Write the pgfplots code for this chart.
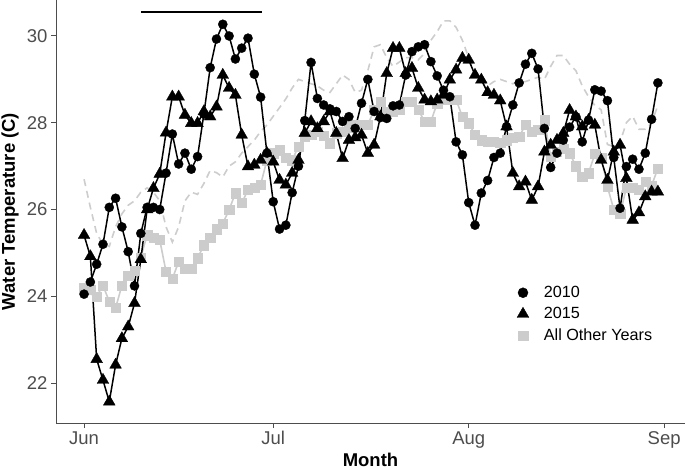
\documentclass[border=0pt]{standalone}
\usepackage{fontspec}
\setmainfont{Liberation Sans}
\usepackage{pgfplots}
\pgfplotsset{compat=1.18}
\usepackage{pgfplotstable}
\definecolor{axgray}{HTML}{4D4D4D}
\definecolor{sqgray}{HTML}{CCCCCC}
\definecolor{dashgray}{HTML}{CDCDCD}

\pgfplotstableread{
d v
0 24.05
1 24.33
2 24.74
3 25.2
4 26.05
5 26.26
6 25.6
7 25.03
8 24.24
9 25.45
10 26.05
11 26.05
12 26.0
13 26.84
14 27.74
15 27.05
16 27.3
17 26.93
18 27.22
19 28.2
20 29.27
21 29.93
22 30.27
23 30.0
24 29.47
25 29.72
26 29.95
27 29.12
28 28.59
29 27.3
30 26.18
31 25.55
32 25.64
33 26.39
34 27.0
35 28.05
36 29.39
37 28.56
38 28.41
39 28.32
40 28.26
41 28.03
42 28.14
43 27.87
44 28.45
45 29.0
46 28.26
47 28.12
48 28.1
49 28.39
50 28.41
51 29.1
52 29.64
53 29.75
54 29.8
55 29.41
56 29.08
57 28.75
58 28.6
59 27.56
60 27.26
61 26.16
62 25.64
63 26.38
64 26.67
65 27.2
66 27.3
67 27.91
68 28.41
69 28.92
70 29.35
71 29.6
72 29.24
73 27.87
74 26.97
75 27.3
76 27.6
77 27.9
78 28.14
79 27.56
80 28.06
81 28.76
82 28.73
83 28.51
84 27.2
85 26.03
86 26.99
87 27.16
88 26.93
89 27.3
90 28.08
91 28.92
}\tA

\pgfplotstableread{
d v
0 25.41
1 24.92
2 22.55
3 22.07
4 21.57
5 22.42
6 23.03
7 23.3
8 23.84
9 24.85
10 26.0
11 26.49
12 26.82
13 27.77
14 28.6
15 28.6
16 28.18
17 27.99
18 27.99
19 28.26
20 28.14
21 28.37
22 29.1
23 28.8
24 28.64
25 27.72
26 26.99
27 27.03
28 27.14
29 27.3
30 27.1
31 26.68
32 26.57
33 26.84
34 27.14
35 27.76
36 28.03
37 27.87
38 28.03
39 28.26
40 27.76
41 27.18
42 27.6
43 27.66
44 27.72
45 27.3
46 27.49
47 28.14
48 29.14
49 29.72
50 29.72
51 29.14
52 29.26
53 28.8
54 28.53
55 28.49
56 28.53
57 28.64
58 28.99
59 29.22
60 29.49
61 29.45
62 29.1
63 28.99
64 28.7
65 28.64
66 28.51
67 27.91
68 26.84
69 26.53
70 26.64
71 26.22
72 26.53
73 27.33
74 27.49
75 27.6
76 27.76
77 28.29
78 28.14
79 27.91
80 28.06
81 27.95
82 27.14
83 26.68
84 27.33
85 27.49
86 26.72
87 25.76
88 25.93
89 26.3
90 26.41
91 26.41
}\tB

\pgfplotstableread{
d v
0 24.2
1 24.15
2 24.0
3 24.25
4 23.88
5 23.73
6 24.25
7 24.47
8 24.6
9 24.9
10 25.41
11 25.35
12 25.3
13 24.57
14 24.4
15 24.8
16 24.63
17 24.63
18 24.88
19 25.18
20 25.35
21 25.55
22 25.68
23 25.99
24 26.38
25 26.15
26 26.45
27 26.5
28 26.57
29 27.14
30 27.3
31 27.37
32 27.2
33 27.14
34 27.45
35 27.68
36 27.72
37 27.8
38 27.7
39 27.53
40 27.76
41 27.8
42 27.9
43 27.95
44 27.95
45 27.95
46 28.3
47 28.49
48 28.26
49 28.26
50 28.3
51 28.49
52 28.49
53 28.3
54 28.03
55 28.03
56 28.45
57 28.53
58 28.53
59 28.53
60 28.14
61 27.99
62 27.72
63 27.6
64 27.57
65 27.57
66 27.55
67 27.6
68 27.65
69 27.68
70 27.95
71 27.8
72 27.85
73 28.06
74 27.22
75 27.33
76 27.41
77 27.3
78 27.0
79 26.75
80 26.84
81 27.28
82 27.2
83 26.53
84 26.0
85 25.9
86 26.5
87 26.5
88 26.45
89 26.65
90 26.55
91 26.95
}\tO

\pgfplotstableread{
d v
0 26.7
1 26.05
2 25.45
3 25.2
4 25.15
5 25.6
6 25.9
7 26.1
8 26.2
9 26.4
10 26.5
11 26.4
12 26.2
13 25.6
14 25.25
15 25.6
16 26.2
17 26.4
18 26.35
19 26.6
20 26.9
21 26.85
22 26.75
23 27.0
24 27.1
25 27.3
26 27.45
27 27.6
28 27.8
29 27.95
30 28.15
31 28.35
32 28.55
33 28.8
34 29.0
35 28.95
36 28.9
37 28.85
38 28.75
39 28.7
40 28.9
41 29.1
42 29.0
43 28.7
44 28.75
45 29.2
46 29.75
47 29.8
48 29.5
49 29.3
50 29.4
51 29.5
52 29.5
53 29.45
54 29.6
55 29.9
56 30.1
57 30.35
58 30.35
59 30.2
60 29.9
61 29.5
62 29.2
63 29.0
64 28.85
65 28.95
66 29.0
67 28.95
68 28.9
69 28.95
70 28.95
71 29.0
72 29.05
73 29.0
74 29.3
75 29.55
76 29.55
77 29.35
78 29.2
79 28.85
80 28.6
81 28.4
82 28.3
83 27.5
84 27.45
85 27.55
86 28.0
87 28.15
88 27.85
89 27.85
90 28.0
91 28.4
}\tD

\begin{document}
\begin{tikzpicture}
\begin{axis}[
  at={(56pt,46pt)}, anchor=south west,
  scale only axis, width=629pt, height=423pt,
  xmin=-4.45, xmax=95.3, ymin=21.08, ymax=30.83,
  axis x line*=bottom, axis y line*=left,
  axis line style={-, axgray, line width=1pt},
  xtick={0,30,61,92}, xticklabels={Jun,Jul,Aug,Sep},
  ytick={22,24,26,28,30},
  minor tick num=0,
  tick style={axgray, line width=1pt},
  tick align=outside, major tick length=5pt,
  ticklabel style={font=\fontsize{18.5}{20}\selectfont, text=axgray},
  /pgf/number format/assume math mode=true,
  xlabel={Month}, ylabel={Water Temperature (C)},
  xlabel style={at={(axis description cs:0.5,0)}, anchor=north, yshift=-26.5pt, font=\fontsize{18.5}{20}\selectfont\bfseries},
  ylabel style={at={(axis description cs:0,0.5)}, anchor=center, yshift=46pt, font=\fontsize{18.5}{20}\selectfont\bfseries},
  legend style={at={(axis description cs:0.728,0.333)}, anchor=north west, draw=none, fill=none,
    font=\fontsize{16.2}{18}\selectfont, row sep=4.5pt,
    /tikz/every odd column/.append style={column sep=13pt}},
  legend cell align=left,
]
\addlegendimage{only marks, mark=*, mark size=5pt, black}
\addlegendentry{2010}
\addlegendimage{only marks, mark=triangle*, mark size=6.8pt, black}
\addlegendentry{2015}
\addlegendimage{only marks, mark=square*, mark size=4.8pt, sqgray}
\addlegendentry{All Other Years}

\addplot[dashgray, line width=1.6pt, dash pattern=on 7pt off 5pt, forget plot] table[x=d,y=v] {\tD};
\addplot[sqgray, line width=1.6pt, mark=square*, mark size=4.6pt, mark options={solid, fill=sqgray, draw=sqgray, line width=0.3pt}, forget plot] table[x=d,y=v] {\tO};
\addplot[black, line width=1.5pt, mark=triangle*, mark size=6.8pt, mark options={solid, fill=black, line width=0.3pt}, forget plot] table[x=d,y=v] {\tB};
\addplot[black, line width=1.5pt, mark=*, mark size=4.6pt, mark options={solid, fill=black, line width=0.3pt}, forget plot] table[x=d,y=v] {\tA};
\addplot[black, line width=1.8pt, forget plot] coordinates {(9,30.55) (28.25,30.55)};
\end{axis}
\pgfresetboundingbox
\path[use as bounding box] (0,0) rectangle (685pt,469pt);
\end{tikzpicture}
\end{document}
